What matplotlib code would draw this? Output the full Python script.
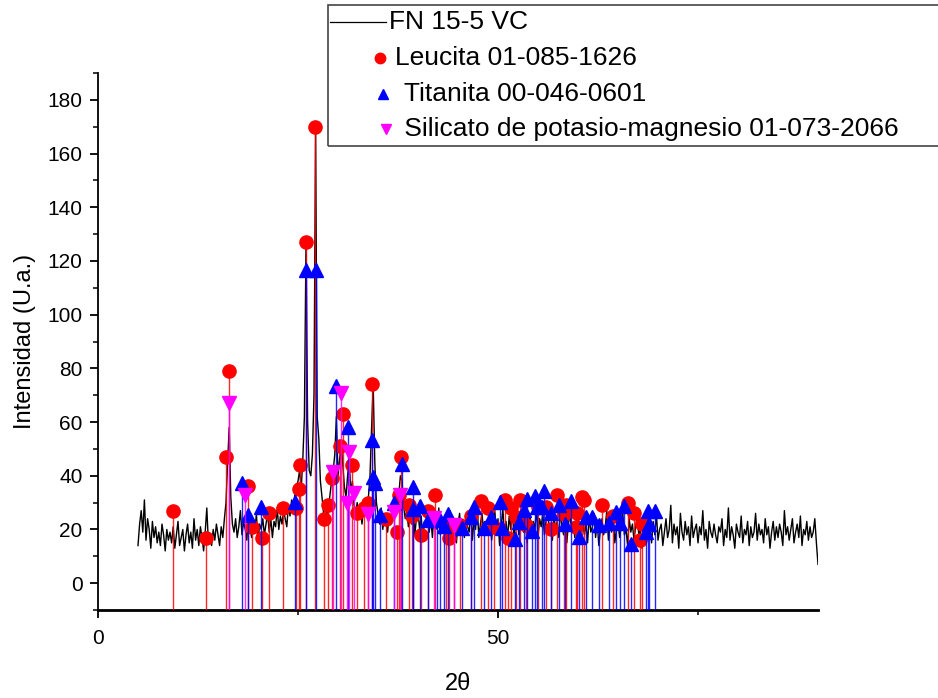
import numpy as np
import matplotlib
matplotlib.use("Agg")
import matplotlib.pyplot as plt
from matplotlib.lines import Line2D
from matplotlib.patches import Rectangle

plt.rcParams['font.family'] = ['Liberation Sans', 'DejaVu Sans']

# measured pattern FN 15-5 VC, 2theta from 5.0 to 90.0 every 0.2 deg
fn_counts = [
    14, 22, 27, 19, 31, 16, 24, 20, 13, 23,   # 5.0
    17, 21, 15, 19, 14, 22, 18, 12, 20, 16,   # 7.0
    19, 15, 21, 13, 18, 23, 14, 17, 20, 12,   # 9.0
    18, 22, 15, 19, 13, 24, 16, 20, 14, 21,   # 11.0
    17, 12, 19, 28, 15, 18, 14, 20, 16, 22,   # 13.0
    18, 14, 21, 17, 24, 30, 45, 58, 32, 22,   # 15.0
    19, 24, 17, 21, 27, 18, 23, 20, 16, 25,   # 17.0
    21, 17, 23, 19, 26, 15, 22, 20, 24, 18,   # 19.0
    22, 26, 19, 24, 17, 23, 21, 28, 20, 25,   # 21.0
    22, 27, 24, 21, 29, 25, 31, 27, 33, 36,   # 23.0
    38, 42, 35, 46, 62, 127, 60, 42, 40, 48,  # 25.0
    70, 170, 62, 54, 38, 32, 26, 30, 24, 28,  # 27.0
    33, 38, 42, 48, 62, 40, 46, 52, 44, 36,   # 29.0
    32, 40, 46, 34, 38, 29, 26, 30, 24, 27,   # 31.0
    22, 28, 25, 30, 32, 40, 58, 74, 45, 30,   # 33.0
    26, 22, 28, 20, 25, 23, 19, 26, 22, 28,   # 35.0
    30, 25, 27, 33, 40, 38, 29, 24, 27, 21,   # 37.0
    26, 22, 29, 18, 24, 27, 20, 25, 16, 23,   # 39.0
    21, 27, 19, 24, 17, 26, 22, 20, 28, 18,   # 41.0
    23, 19, 25, 16, 22, 27, 18, 24, 20, 15,   # 43.0
    22, 26, 18, 23, 17, 25, 21, 19, 27, 16,   # 45.0
    24, 20, 29, 17, 22, 26, 19, 23, 18, 21,   # 47.0
    25, 16, 22, 27, 19, 24, 14, 21, 28, 18,   # 49.0
    23, 17, 25, 20, 29, 16, 22, 26, 18, 21,   # 51.0
    24, 19, 27, 15, 22, 26, 18, 23, 20, 28,   # 53.0
    17, 24, 21, 26, 18, 23, 30, 19, 22, 16,   # 55.0
    25, 20, 23, 17, 27, 21, 18, 24, 15, 22,   # 57.0
    26, 19, 22, 17, 24, 28, 16, 21, 23, 18,   # 59.0
    22, 15, 25, 19, 21, 26, 17, 23, 14, 20,   # 61.0
    24, 18, 21, 27, 16, 22, 19, 25, 15, 20,   # 63.0
    23, 17, 21, 26, 18, 20, 14, 24, 19, 22,   # 65.0
    16, 21, 25, 18, 20, 13, 22, 17, 24, 19,   # 67.0
    21, 15, 23, 18, 26, 16, 20, 22, 14, 19,   # 69.0
    24, 17, 20, 29, 15, 22, 18, 21, 13, 26,   # 71.0
    19, 16, 23, 18, 21, 14, 25, 17, 20, 22,   # 73.0
    15, 21, 18, 27, 16, 20, 13, 23, 19, 17,   # 75.0
    22, 18, 15, 21, 19, 24, 14, 20, 17, 28,   # 77.0
    16, 21, 18, 13, 22, 19, 17, 25, 15, 20,   # 79.0
    18, 23, 14, 21, 17, 19, 26, 16, 22, 18,   # 81.0
    20, 15, 24, 18, 21, 13, 19, 23, 16, 21,   # 83.0
    17, 22, 19, 14, 27, 18, 21, 16, 20, 24,   # 85.0
    15, 19, 22, 17, 25, 14, 20, 18, 23, 16,   # 87.0
    21, 17, 19, 24, 15, 7,                    # 89.0
]
two_theta = np.round(5.0 + 0.2 * np.arange(len(fn_counts)), 1)

# Leucita 01-085-1626
leu_2t = [9.4, 13.5, 16.0, 16.4, 18.7, 19.3, 20.5, 21.4, 23.1, 24.7, 25.1, 25.3,
          25.95, 27.1, 28.2, 28.8, 29.2, 30.25, 30.6, 31.8, 32.4, 33.25, 33.8,
          34.3, 35.95, 37.4, 37.6, 37.9, 38.9, 39.3, 40.4, 41.2, 42.1, 43.5,
          43.9, 44.5, 45.3, 46.6, 47.9, 48.8, 49.5, 50.9, 51.2, 51.6, 52.3,
          52.8, 53.5, 55.0, 56.0, 56.6, 57.4, 58.25, 58.5, 59.7, 59.9, 60.5,
          60.8, 63.0, 64.4, 66.2, 67.0, 67.7, 68.0]
leu_i = [27, 17, 47, 79, 36, 21, 17, 26, 28, 28, 35, 44,
         127, 170, 24, 29, 39, 51, 63, 44, 26, 28, 30,
         74, 24, 19, 33, 47, 29, 25, 18, 27, 33, 21.5,
         17, 21.5, 21.5, 25, 30.7, 28, 21, 31, 16.7, 28, 24.7,
         31, 21.6, 28.4, 28.4, 20, 33, 25.6, 29, 21, 26, 32,
         31, 29, 25, 30, 26, 16, 22]

# Titanita 00-046-0601
tit_2t = [18.0, 18.7, 20.4, 24.6, 25.95, 27.2, 29.8, 31.3, 34.3, 34.4, 34.6,
          35.3, 37.0, 37.95, 39.4, 39.4, 40.3, 41.2, 42.4, 42.8, 43.2, 43.7,
          45.5, 46.6, 47.0, 48.3, 49.1, 50.3, 50.5, 52.1, 52.6, 53.25, 53.6,
          54.3, 54.6, 54.9, 55.5, 55.75, 56.6, 57.6, 58.4, 59.1, 60.1, 61.0,
          61.8, 62.6, 63.9, 64.8, 65.3, 65.8, 66.6, 68.5, 68.7, 68.9, 69.6]
tit_i = [37.4, 25.3, 28.4, 30.3, 116.7, 116.5, 73.4, 58.3, 53.3, 39.4, 37.2,
         25.3, 30, 44.4, 35.7, 27.8, 28.7, 23.5, 23.7, 23.5, 21.2, 25.7,
         20.6, 24.6, 28.4, 20.4, 24.7, 30.2, 20.6, 16.5, 22.6, 27.2, 31.3,
         19.6, 32.5, 28.2, 28.4, 34.5, 26, 29, 22.1, 30.6, 17.3, 24.6,
         24.7, 21.6, 22.3, 26.6, 22.4, 28.8, 14.6, 19, 26.9, 22.2, 26.8]

# Silicato de potasio-magnesio 01-073-2066
sil_2t = [16.4, 18.4, 29.4, 30.4, 31.1, 31.4, 32.0, 33.75, 37.0, 37.8, 42.0, 44.5]
sil_i = [67, 32.8, 41.5, 70.7, 29.7, 49, 33.7, 25.7, 26.6, 32.8, 24.1, 21.6]

phases = [
    (leu_2t, leu_i, '#ff0000', 'o', 9.5),
    (tit_2t, tit_i, '#0000ff', '^', 10.5),
    (sil_2t, sil_i, '#ff00ff', 'v', 10.5),
]
labels = ['FN 15-5 VC', 'Leucita 01-085-1626', ' Titanita 00-046-0601',
          ' Silicato de potasio-magnesio 01-073-2066']

W, H = 938, 698
fig = plt.figure(figsize=(W / 100, H / 100), dpi=100)
ax = fig.add_axes([98 / W, 1 - 610 / H, (818 - 98) / W, (610 - 73) / H])

ax.plot(two_theta, fn_counts, color='black', lw=1.0, zorder=2)
z = 3
for xs, ys, color, marker, ms in phases:
    ax.vlines(xs, -10, ys, colors=color, lw=1.0, alpha=0.85, zorder=z)
    ax.plot(xs, ys, ls='none', marker=marker, color=color, ms=ms, zorder=z + 0.5)
    z += 1

ax.set_xlim(0, 90)
ax.set_ylim(-10, 190)
ax.set_xticks([0, 50])
ax.set_xticks([25, 75], minor=True)
ax.set_yticks(np.arange(0, 181, 20))
ax.set_yticks(np.arange(-10, 191, 10), minor=True)
for s in ('top', 'right'):
    ax.spines[s].set_visible(False)
ax.spines['bottom'].set_linewidth(2.0)
ax.spines['left'].set_linewidth(1.3)
ax.tick_params(which='major', direction='out', length=6, width=1.3, labelsize=15)
ax.tick_params(which='minor', direction='out', length=3.5, width=1.1)
ax.tick_params(axis='x', pad=8)
ax.tick_params(axis='y', pad=5)
ax.set_xlabel('2θ', fontsize=17, labelpad=18)
ax.set_ylabel('Intensidad (U.a.)', fontsize=17, labelpad=8)

# legend box in Origin style, running off the right edge
def fx(px):
    return px / W

def fy(py):
    return 1 - py / H

fig.add_artist(Rectangle((fx(328), fy(146)), fx(960) - fx(328), fy(5) - fy(146),
                         transform=fig.transFigure, fill=False, ec='#444444', lw=1.2,
                         clip_on=False))
rows = [22, 58, 94, 129]
fig.add_artist(Line2D([fx(330), fx(386)], [fy(rows[0])] * 2, color='black', lw=0.9,
                      transform=fig.transFigure))
fig.text(fx(389), fy(rows[0]), labels[0], fontsize=19, va='center')
hx = [380, 383, 386]
tx = [395, 397, 397]
for (xs, ys, color, marker, ms), row, h, t, lab in zip(phases, rows[1:], hx, tx, labels[1:]):
    fig.add_artist(Line2D([fx(h)], [fy(row)], ls='none', marker=marker, color=color,
                          ms=7.5, transform=fig.transFigure))
    fig.text(fx(t), fy(row), lab, fontsize=19, va='center')

fig.savefig('out.png', dpi=100)
